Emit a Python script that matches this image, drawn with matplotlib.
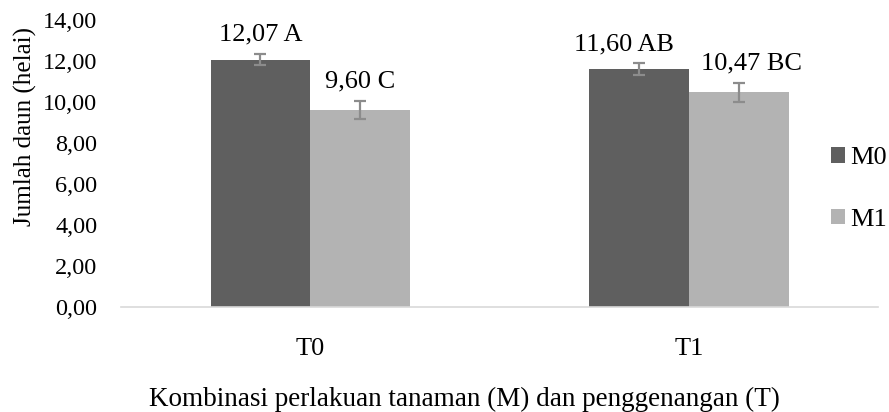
import matplotlib.pyplot as plt
import numpy as np

# data
kategori = ["T0", "T1"]
m0 = [12.07, 11.60]
m1 = [9.60, 10.47]
err_m0 = [0.27, 0.28]
err_m1 = [0.45, 0.45]
notasi_m0 = ["A", "AB"]
notasi_m1 = ["C", "BC"]
yticks = [0, 2, 4, 6, 8, 10, 12, 14]

plt.rcParams['font.family'] = ['Liberation Serif', 'DejaVu Serif']

fig = plt.figure(figsize=(8.89, 4.12), dpi=100)
ax = fig.add_axes([0.136, 0.2549, 0.852, 0.6966])

x = np.arange(len(kategori))
w = 0.263
ek = dict(ecolor="#8c8c8c", elinewidth=1.6, capsize=4.5, capthick=1.6)
ax.bar(x - w / 2, m0, w, color="#5f5f5f", label="M0", yerr=err_m0, error_kw=ek, zorder=2)
ax.bar(x + w / 2, m1, w, color="#b3b3b3", label="M1", yerr=err_m1, error_kw=ek, zorder=2)

def fmt(v):
    return f"{v:.2f}".replace(".", ",")

# label nilai + notasi di atas error bar (T1 sedikit digeser biar tidak tabrakan)
geser = [[0, -11], [0, 9]]
for k, (xs, vals, errs, nots) in enumerate([(x - w / 2, m0, err_m0, notasi_m0),
                                             (x + w / 2, m1, err_m1, notasi_m1)]):
    for i, (xi, v, e, n) in enumerate(zip(xs, vals, errs, nots)):
        ax.annotate(f"{fmt(v)} {n}", (xi, v + e), xytext=(geser[k][i], 6), textcoords="offset points",
                    ha="center", va="bottom", fontsize=19)

ax.set_xlim(-0.5, 1.5)
ax.set_ylim(0, 14)
ax.set_yticks(yticks)
ax.set_yticklabels([fmt(t) for t in yticks], fontsize=17.5)
ax.set_xticks(x)
ax.set_xticklabels(kategori, fontsize=19)
ax.tick_params(length=0)
ax.tick_params(axis="x", pad=22)
ax.tick_params(axis="y", pad=17)
for s in ["top", "right", "left"]:
    ax.spines[s].set_visible(False)
ax.spines["bottom"].set_color("#d9d9d9")
ax.spines["bottom"].set_linewidth(1.2)

ax.set_ylabel("Jumlah daun (helai)", fontsize=18)
ax.yaxis.set_label_coords(-0.111, 0.63)
ax.set_xlabel("Kombinasi perlakuan tanaman (M) dan penggenangan (T)", fontsize=19.5)
ax.xaxis.set_label_coords(0.454, -0.279)

ax.legend(loc="upper left", bbox_to_anchor=(0.935, 0.643), bbox_transform=fig.transFigure,
          frameon=False, fontsize=19, borderpad=0, borderaxespad=0,
          handlelength=0.53, handleheight=0.53, handletextpad=0.19, labelspacing=1.5)

fig.savefig("out.png", dpi=100)
